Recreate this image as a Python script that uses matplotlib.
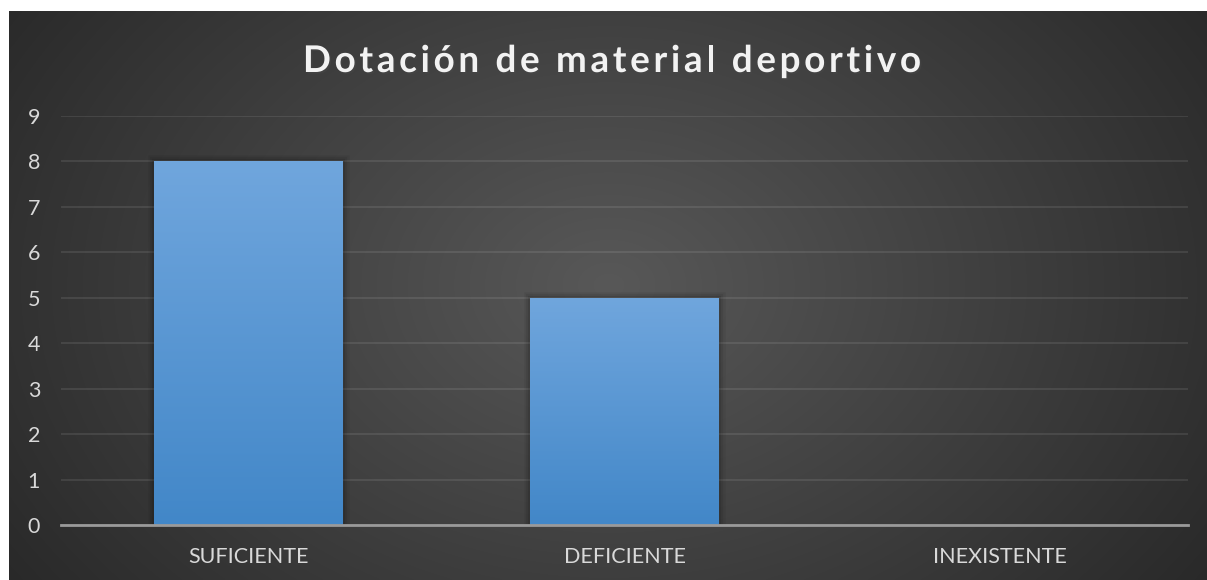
import numpy as np
import matplotlib
matplotlib.use("Agg")
import matplotlib.pyplot as plt
import matplotlib.patheffects as pe
from matplotlib.font_manager import FontProperties, findfont
from matplotlib.ft2font import FT2Font

# ---- data ----
title = "Dotación de material deportivo"
categories = ["SUFICIENTE", "DEFICIENTE", "INEXISTENTE"]
values = [8, 5, 0]
yticks = [0, 1, 2, 3, 4, 5, 6, 7, 8, 9]

W, H = 1207, 580
fig = plt.figure(figsize=(W / 100, H / 100), dpi=100)
fig.patch.set_facecolor("white")

# background with radial gradient
bx0, by0 = 9, 11
bg = fig.add_axes([bx0 / W, 0, (W - bx0) / W, (H - by0) / H])
bg.set_axis_off()
ny, nx = 300, 600
yy, xx = np.mgrid[0:ny, 0:nx]
cx, cy = nx * 0.5, ny * 0.48
r = np.sqrt(((xx - cx) / (nx * 0.62)) ** 2 + ((yy - cy) / (ny * 0.95)) ** 2)
r = np.clip(r, 0, 1)
inner = np.array([0x58, 0x58, 0x58]) / 255
outer = np.array([0x28, 0x28, 0x28]) / 255
img = inner[None, None, :] * (1 - r[..., None]) + outer[None, None, :] * r[..., None]
bg.imshow(img, aspect="auto", extent=[0, 1, 0, 1], interpolation="bilinear")
bg.set_xlim(0, 1)
bg.set_ylim(0, 1)

# main axes
left, right, top, bottom = 61, 1188, 116, 525
ax = fig.add_axes([left / W, (H - bottom) / H, (right - left) / W, (bottom - top) / H])
ax.set_facecolor("none")
x = np.arange(len(categories))
glow = [pe.Stroke(linewidth=9, foreground="black", alpha=0.05),
        pe.Stroke(linewidth=6, foreground="black", alpha=0.07),
        pe.Stroke(linewidth=3, foreground="black", alpha=0.10),
        pe.Normal()]
bars = ax.bar(x, values, width=0.503, color="#5b9bd5", zorder=3, linewidth=0)
grad = np.linspace(0, 1, 256)[:, None]
top_c = np.array([112, 166, 221]) / 255
bot_c = np.array([66, 135, 200]) / 255
gimg = top_c[None, None, :] * (1 - grad[..., None]) + bot_c[None, None, :] * grad[..., None]
gimg = np.repeat(gimg, 2, axis=1)
for b in bars:
    h = b.get_height()
    if h <= 0:
        b.set_visible(False)
        continue
    b.set_path_effects(glow)
    im = ax.imshow(gimg, extent=[b.get_x(), b.get_x() + b.get_width(), 0, h],
                   aspect="auto", zorder=4, interpolation="bilinear")
    im.set_clip_path(b)

ax.set_xlim(-0.5, len(categories) - 0.5)
ax.set_ylim(0, 9)
ax.set_yticks(yticks)
ax.set_xticks(x)
ax.set_xticklabels(categories)
for s in ["top", "right", "left"]:
    ax.spines[s].set_visible(False)
ax.spines["bottom"].set_color("#9a9a9a")
ax.spines["bottom"].set_linewidth(2)
ax.spines["bottom"].set_zorder(5)
ax.grid(axis="y", color="white", alpha=0.09, linewidth=1.5, zorder=1)
ax.set_axisbelow(True)
ax.tick_params(axis="both", length=0, colors="#d9d9d9", labelsize=15.5)
ax.tick_params(axis="y", pad=15)
ax.tick_params(axis="x", pad=16)
for t in ax.get_xticklabels() + ax.get_yticklabels():
    t.set_fontfamily("Lato")

# title with letter spacing
tsize = 26.5
spacing = 3.7  # px
fp = FontProperties(family="Lato", weight="bold")
font = FT2Font(findfont(fp))
font.set_size(tsize, 100)
advs = []
for c in title:
    g = font.load_char(ord(c))
    advs.append(g.linearHoriAdvance / 65536.0)
total = sum(advs) + spacing * (len(title) - 1)
xc, ybase = 612, 72
xp = xc - total / 2
for c, a in zip(title, advs):
    if c != " ":
        fig.text(xp / W, 1 - ybase / H, c, ha="left", va="baseline",
                 fontsize=tsize, fontweight="bold", color="#f2f2f2", family="Lato",
                 path_effects=[pe.withSimplePatchShadow(offset=(1.2, -1.2), alpha=0.45)])
    xp += a + spacing

fig.savefig("out.png", dpi=100)
